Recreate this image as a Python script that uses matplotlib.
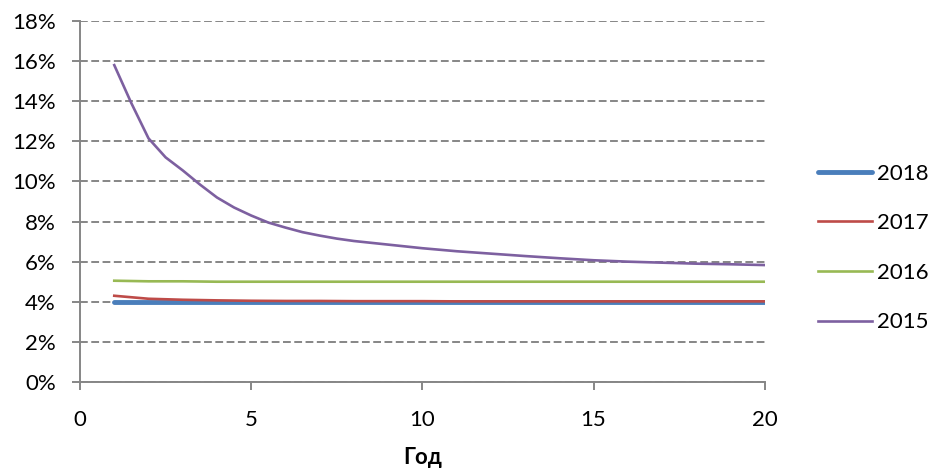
import matplotlib
matplotlib.use("Agg")
import matplotlib.pyplot as plt
from matplotlib.ticker import FuncFormatter

years = list(range(1, 21))
x2015 = [1, 1.5, 2, 2.5, 3, 3.5, 4, 4.5, 5, 5.5, 6, 6.5, 7, 7.5, 8,
         9, 10, 11, 12, 13, 14, 15, 16, 17, 18, 19, 20]
y2015 = [15.8, 13.9, 12.15, 11.2, 10.55, 9.85, 9.2, 8.7, 8.3, 7.95, 7.7, 7.47, 7.3, 7.15, 7.03,
         6.85, 6.67, 6.52, 6.4, 6.28, 6.17, 6.07, 6.0, 5.95, 5.9, 5.87, 5.83]
y2016 = [5.05, 5.02, 5.02, 5.0, 5.0, 5.0, 5.0, 5.0, 5.0, 5.0,
         5.0, 5.0, 5.0, 5.0, 5.0, 5.0, 5.0, 5.0, 5.0, 5.0]
y2017 = [4.3, 4.15, 4.1, 4.07, 4.05, 4.04, 4.04, 4.03, 4.03, 4.03,
         4.02, 4.02, 4.02, 4.02, 4.02, 4.02, 4.02, 4.02, 4.02, 4.02]
y2018 = [4.0] * 20
x_ticks = [0, 5, 10, 15, 20]
y_ticks = list(range(0, 19, 2))

plt.rcParams['font.family'] = ['Lato', 'DejaVu Sans']

fig = plt.figure(figsize=(9.36, 4.72), dpi=100)
ax = fig.add_axes([0.0855, 0.1907, 0.7315, 0.7648])

l18, = ax.plot(years, y2018, color='#4a7ebb', lw=3.5, label='2018', solid_capstyle='round')
l17, = ax.plot(years, y2017, color='#be4b48', lw=1.9, label='2017')
l16, = ax.plot(years, y2016, color='#98b954', lw=1.9, label='2016')
l15, = ax.plot(x2015, y2015, color='#7d60a0', lw=1.9, label='2015')

ax.set_xlim(0, 20)
ax.set_ylim(0, 18)
ax.set_xticks(x_ticks)
ax.set_yticks(y_ticks)
ax.yaxis.set_major_formatter(FuncFormatter(lambda v, p: f"{int(v)}%"))
ax.grid(axis='y', color='#868686', linestyle=(0, (4, 1.8)), linewidth=1.4)
ax.set_axisbelow(True)
for s in ['top', 'right']:
    ax.spines[s].set_visible(False)
for s in ['left', 'bottom']:
    ax.spines[s].set_color('#868686')
    ax.spines[s].set_linewidth(1.4)
ax.tick_params(axis='both', colors='#868686', labelcolor='black', labelsize=16,
               length=5.5, width=1.4, direction='out')
ax.tick_params(axis='x', pad=15)
ax.tick_params(axis='y', pad=12)
ax.set_xlabel('Год', fontsize=16, fontweight='bold', labelpad=12)

fig.legend(handles=[l18, l17, l16, l15], loc='center left',
           bbox_to_anchor=(0.874, 0.4746), frameon=False, fontsize=16,
           handlelength=2.43, handletextpad=0.23, labelspacing=1.33,
           borderpad=0, borderaxespad=0)

fig.savefig('out.png', dpi=100)
